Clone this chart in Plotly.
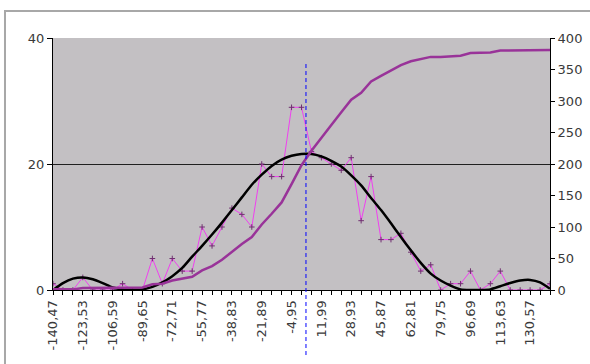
import plotly.graph_objects as go

categories = ["-140,47", "-134,82", "-129,18", "-123,53", "-117,88", "-112,24", "-106,59",
              "-100,94", "-95,30", "-89,65", "-84,00", "-78,36", "-72,71", "-67,06",
              "-61,42", "-55,77", "-50,12", "-44,48", "-38,83", "-33,18", "-27,54",
              "-21,89", "-16,24", "-10,60", "-4,95", "0,70", "6,35", "11,99", "17,64",
              "23,29", "28,93", "34,58", "40,23", "45,87", "51,52", "57,17", "62,81",
              "68,46", "74,11", "79,75", "85,40", "91,05", "96,69", "102,34", "107,99",
              "113,63", "119,28", "124,93", "130,57", "136,22", "141,87"]

frequency = [1, 0, 0, 2, 0, 0, 0, 1, 0, 0, 5, 1, 5, 3, 3, 10, 7, 10, 13, 12, 10,
             20, 18, 18, 29, 29, 22, 21, 20, 19, 21, 11, 18, 8, 8, 9, 6, 3, 4, 0,
             1, 1, 3, 0, 1, 3, 0, 0, 0, 0, 1]

normal_curve = [0.0, 1.1, 1.8, 2.0, 1.7, 1.1, 0.4, 0.1, 0.05, 0.1, 0.5, 1.2, 2.2, 3.5,
                5.3, 7.0, 8.8, 10.7, 12.7, 14.7, 16.7, 18.3, 19.7, 20.7, 21.3, 21.6,
                21.6, 21.2, 20.5, 19.6, 18.2, 16.6, 14.6, 12.7, 10.6, 8.4, 6.3, 4.3,
                2.6, 1.5, 0.7, 0.1, 0.0, 0.0, 0.1, 0.6, 1.1, 1.5, 1.6, 1.2, 0.2]

cumulative = [1, 1, 1, 3, 3, 3, 3, 4, 4, 4, 9, 10, 15, 18, 21, 31, 38, 48, 61, 73, 84,
              104, 121, 139, 168, 198, 221, 242, 262, 282, 302, 313, 331, 340, 348,
              357, 363, 366, 370, 370, 371, 372, 376, 376, 377, 380, 380, 380, 380,
              380, 381]

label_every = 3
tick_labels = [c if i % label_every == 0 else "" for i, c in enumerate(categories)]
mean_position = 25.45  # category position of the mean marker line

left_ticks = [0, 20, 40]
right_ticks = [0, 50, 100, 150, 200, 250, 300, 350, 400]

fig = go.Figure()

fig.add_trace(go.Scatter(
    x=categories, y=cumulative, mode="lines", yaxis="y2",
    line=dict(color="#993399", width=2.5), hoverinfo="skip"))

fig.add_trace(go.Scatter(
    x=categories, y=frequency, mode="lines+markers",
    line=dict(color="#F040F0", width=1),
    marker=dict(symbol="cross-thin", size=4, color="#703070",
                line=dict(width=1, color="#703070"))))

fig.add_trace(go.Scatter(
    x=categories, y=normal_curve, mode="lines",
    line=dict(color="#000000", width=2.5, shape="spline", smoothing=0.6)))

fig.add_shape(type="line", xref="x", yref="paper",
              x0=mean_position, x1=mean_position, y0=-0.258, y1=0.905,
              line=dict(color="#0000FF", width=1, dash="4px,3px"))

# outer chart-area frame
fig.add_shape(type="rect", xref="paper", yref="paper",
              x0=-0.0966, x1=1.3, y0=-0.6, y1=1.107,
              line=dict(color="#A8A8A8", width=2), layer="below")

font = dict(family="DejaVu Sans, Arial, sans-serif", size=13, color="#3a3a3a")

fig.update_layout(
    width=590, height=364,
    margin=dict(l=53, r=40, t=38, b=74, autoexpand=False),
    paper_bgcolor="#FFFFFF",
    plot_bgcolor="#C3C0C3",
    showlegend=False,
    font=font,
    xaxis=dict(
        type="category", range=[0, len(categories) - 1],
        tickmode="array", tickvals=categories, ticktext=tick_labels,
        tickangle=-90, ticks="outside", ticklen=4, tickcolor="#000000",
        showline=True, linecolor="#000000", linewidth=1,
        showgrid=False, zeroline=False, automargin=False,
    ),
    yaxis=dict(
        range=[0, 40], tickvals=left_ticks, ticks="outside", ticklen=5,
        tickcolor="#000000", showline=True, linecolor="#000000", linewidth=1,
        showgrid=True, gridcolor="#202020", gridwidth=1, zeroline=False,
        automargin=False,
    ),
    yaxis2=dict(
        range=[0, 400], tickvals=right_ticks, overlaying="y", side="right",
        ticks="outside", ticklen=4, tickcolor="#000000", showline=True,
        linecolor="#000000", linewidth=1, showgrid=False, zeroline=False,
        automargin=False,
    ),
)

fig.write_html("out.html", config={"displayModeBar": False},
               post_script="document.body.style.margin='0px';")
